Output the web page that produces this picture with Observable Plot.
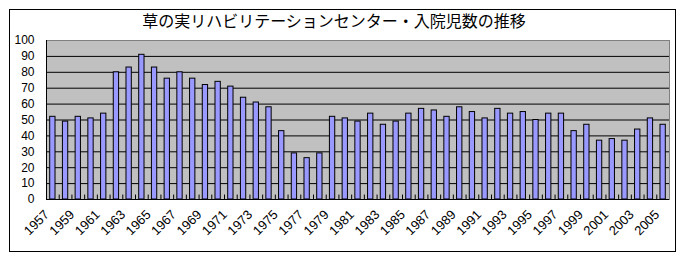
<!DOCTYPE html>
<html>
<head>
<meta charset="utf-8">
<script src="https://cdn.jsdelivr.net/npm/d3@7"></script>
<script src="https://cdn.jsdelivr.net/npm/@observablehq/plot@0.6"></script>
<style>
  html, body { margin: 0; padding: 0; background: #fff; }
  #wrap { position: relative; width: 683px; height: 258px; overflow: hidden; background: #fff; }
  #frame { position: absolute; left: 9px; top: 9px; width: 665px; height: 241px; border: 1px solid #000; }
  #title { position: absolute; left: 2px; width: 664px; top: 10px; text-align: center;
           font-family: "Noto Sans CJK JP", sans-serif; font-weight: normal; font-size: 16px; line-height: 20px; color: #000; }
  #chart { position: absolute; left: 0; top: 0; }
</style>
</head>
<body>
<div id="wrap">
  <div id="frame"></div>
  <div id="title">草の実リハビリテーションセンター・入院児数の推移</div>
  <div id="chart"></div>
</div>
<script>
const years = [1957,1958,1959,1960,1961,1962,1963,1964,1965,1966,1967,1968,1969,1970,1971,
  1972,1973,1974,1975,1976,1977,1978,1979,1980,1981,1982,1983,1984,1985,1986,1987,1988,1989,
  1990,1991,1992,1993,1994,1995,1996,1997,1998,1999,2000,2001,2002,2003,2004,2005];
const values = [52,49,52,51,54,80,83,91,83,76,80,76,72,74,71,
  64,61,58,43,29,26,29,52,51,49,54,47,49,54,57,56,52,58,
  55,51,57,54,55,50,54,54,43,47,37,38,37,44,51,47];
const xTickLabels = [1957,1959,1961,1963,1965,1967,1969,1971,1973,1975,1977,1979,1981,1983,
  1985,1987,1989,1991,1993,1995,1997,1999,2001,2003,2005];
const yTicks = [0,10,20,30,40,50,60,70,80,90,100];

const data = years.map((y, i) => ({year: y, value: values[i]}));
const boundaries = years.slice(0, -1).map(y => y + 0.5);

const chart = Plot.plot({
  width: 683,
  height: 258,
  marginLeft: 46,
  marginRight: 14,
  marginTop: 40,
  marginBottom: 59,
  style: {fontFamily: "'Liberation Sans', Arial, sans-serif", fontSize: "12px", background: "transparent", color: "#000"},
  x: {domain: [1956.5, 2005.5], label: null},
  y: {domain: [0, 100], label: null},
  marks: [
    Plot.frame({fill: "#C0C0C0", stroke: "#808080"}),
    Plot.ruleY(yTicks.filter(t => t > 0 && t < 100), {stroke: "#000", strokeWidth: 1}),
    Plot.ruleX(boundaries, {y1: 0, y2: 2.8, stroke: "#000"}),
    Plot.rectY(data, {x1: d => d.year - 0.5, x2: d => d.year + 0.5, y: "value",
      insetLeft: 3.7, insetRight: 3.7, fill: "#9999FF", stroke: "#000", strokeWidth: 1}),
    Plot.ruleX([1956.5], {stroke: "#000"}),
    Plot.ruleY([0], {stroke: "#000"}),
    Plot.axisX({ticks: xTickLabels, tickFormat: d => String(d), tickRotate: -45, tickSize: 0,
      tickPadding: 13, dx: -6, fontSize: 13, label: null}),
    Plot.axisY({ticks: yTicks, tickSize: 0, tickPadding: 12, fontSize: 12, label: null})
  ]
});
document.getElementById("chart").appendChild(chart);
</script>
</body>
</html>
